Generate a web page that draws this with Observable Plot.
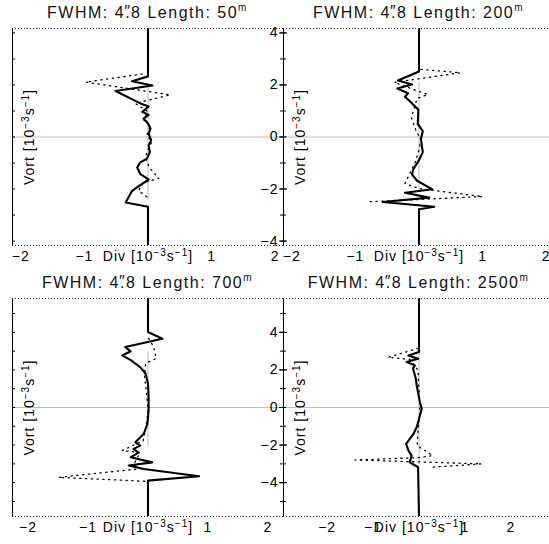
<!DOCTYPE html>
<html><head><meta charset="utf-8">
<script src="https://cdn.jsdelivr.net/npm/d3@7"></script>
<script src="https://cdn.jsdelivr.net/npm/@observablehq/plot@0.6"></script>
<style>
html,body{margin:0;padding:0;background:#fff;}
#fig{position:relative;width:549px;height:544px;overflow:hidden;background:#fff;font-family:"Liberation Sans",Arial,sans-serif;}
#fig svg{position:absolute;}
.ttl{position:absolute;font-size:16px;line-height:1;letter-spacing:1.5px;white-space:nowrap;transform:translate(-50%,-50%);color:#111;}
.ttl sup{font-size:10px;vertical-align:0;position:relative;top:-7px;}
.arc{display:inline-block;position:relative;}
.arc i{font-style:normal;position:absolute;left:-1px;top:-1px;}
</style></head><body><div id="fig"></div>
<script>
// ---- data (Div vs Vort, units 10^-3 s^-1) ----
const lengths = ["50", "200", "700", "2500"];
const xTicks = [-2, -1, 1, 2];
const yTicks = [-4, -2, 0, 2, 4];

// 50 m
const tlSolidVort = [4.17, 2.33, 2.14, 1.98, 1.77, 1.29, 1.17, 0.97, 0.85, 0.71, 0.52, 0.32, 0.13, -0.13, -0.32, -0.58, -0.84, -0.97, -1.17, -1.43, -1.55, -1.64, -1.88, -2.07, -2.52, -2.68, -4.17];
const tlSolidDiv  = [0, 0, -0.25, 0.07, -0.51, -0.12, 0.01, -0.09, 0.01, -0.07, 0, 0.04, 0.01, 0.05, 0.01, 0.03, -0.02, -0.12, -0.17, -0.12, -0.04, 0.01, -0.14, -0.25, -0.35, 0, 0];
const tlDotVort = [2.42, 2.11, 1.62, 1.29, 0.97, 0.66, 0.43, 0.08, -0.19, -0.47, -0.78, -1.17, -1.59, -1.75, -2.06, -2.33];
const tlDotDiv  = [-0.09, -0.98, 0.35, -0.2, 0, -0.07, 0.04, -0.02, 0.06, 0, -0.04, 0.02, 0.17, -0.07, -0.15, 0];
const tlGrayVort = [2.05, -2.4];
const tlGrayDiv  = [0, 0];

// 200 m
const trSolidVort = [4.17, 2.52, 2.17, 2.02, 1.86, 1.68, 1.55, 1.36, 1.05, 0.5, 0.23, -0.08, -0.58, -0.89, -1.24, -1.44, -1.68, -2.01, -2.14, -2.33, -2.5, -2.68, -2.78, -4.17];
const trSolidDiv  = [0, 0, -0.33, -0.11, -0.34, -0.17, -0.22, -0.14, -0.01, -0.02, 0.06, 0.03, 0.06, 0, -0.09, -0.11, -0.03, 0.21, -0.22, 0.16, -0.57, 0.24, 0, 0];
const trDotVort = [2.6, 2.47, 2.1, 1.63, 1.48, 0.74, 0.27, -0.12, -0.5, -0.97, -1.79, -1.98, -2.29, -2.49];
const trDotDiv  = [0.03, 0.65, -0.39, 0.14, -0.03, -0.12, -0.05, 0.03, 0, -0.06, -0.22, 0, 1.0, -0.83];
const trGrayVort = [2.1, -2.0];
const trGrayDiv  = [0, 0];

// 700 m
const blSolidVort = [5.8, 4.02, 3.66, 3.22, 2.99, 2.77, 2.51, 2.33, 2.15, 1.8, 1.26, 0.55, -0.16, -0.87, -1.4, -1.85, -2.03, -2.2, -2.4, -2.65, -2.92, -3.09, -3.27, -3.66, -3.89, -5.8];
const blSolidDiv  = [0, 0, 0.24, -0.38, -0.29, -0.43, -0.28, -0.21, -0.13, -0.04, 0, 0.01, 0.01, -0.01, -0.07, -0.21, -0.13, -0.24, -0.16, -0.29, 0.07, -0.32, -0.07, 0.85, 0, 0];
const blDotVort = [3.68, 3.25, 2.61, 2.35, 1.71, 0.64, -0.27, -1.12, -1.76, -2.29, -2.4, -3.04, -3.25, -3.72, -3.93];
const blDotDiv  = [0.01, 0.09, 0.14, -0.04, -0.06, -0.02, 0, -0.04, -0.08, -0.43, -0.13, -0.24, -0.12, -1.49, -0.01];
const blGrayVort = [2.95, -2.03];
const blGrayDiv  = [0, 0];

// 2500 m
const brSolidVort = [5.8, 2.95, 2.77, 2.6, 2.42, 2.24, 2.08, 1.55, 1.17, 0.28, -0.07, -0.52, -1.05, -1.4, -1.94, -2.29, -2.56, -2.92, -3.18, -5.8];
const brSolidDiv  = [0, 0, -0.23, -0.02, -0.27, -0.09, -0.13, -0.07, -0.05, 0.02, 0.06, 0.01, -0.05, -0.12, -0.28, -0.23, -0.16, -0.2, -0.02, 0];
const brDotVort = [3.15, 2.67, 2.56, 1.97, 0.91, -0.16, -1.23, -2.03, -2.56, -2.67, -2.79, -3.0, -3.18];
const brDotDiv  = [-0.02, -0.67, -0.2, -0.02, 0, 0.02, -0.02, -0.04, 0.3, -0.04, -1.39, 1.36, 0.24];
const brGrayVort = [3.04, -2.99];
const brGrayDiv  = [0, 0];

// axis extents per panel
const xMax = [2.13, 2.13, 2.26, 2.95];
const yMax = [4.17, 4.17, 5.8, 5.8];

// ---- drawing ----
const fmt = d => (d < 0 ? "\u2212" + (-d) : String(d));
const fig = document.getElementById("fig");
const FW = 271, ML = 12, MR = 12, MT = 28, MB = 28;

const panels = [
  {sv: tlSolidVort, sd: tlSolidDiv, dv: tlDotVort, dd: tlDotDiv, gv: tlGrayVort, gd: tlGrayDiv, h: 217, left: 0, top: 0, right: true},
  {sv: trSolidVort, sd: trSolidDiv, dv: trDotVort, dd: trDotDiv, gv: trGrayVort, gd: trGrayDiv, h: 217, left: 271, top: 0, right: false},
  {sv: blSolidVort, sd: blSolidDiv, dv: blDotVort, dd: blDotDiv, gv: blGrayVort, gd: blGrayDiv, h: 218, left: 0, top: 270, right: true},
  {sv: brSolidVort, sd: brSolidDiv, dv: brDotVort, dd: brDotDiv, gv: brGrayVort, gd: brGrayDiv, h: 218, left: 271, top: 270, right: false}
];

// rebuild "Name [10^-3 s^-1]" labels with real raised superscripts
function unitLabel(el, name) {
  const t = d3.select(el);
  t.text(null);
  t.append("tspan").text(name + " [10");
  t.append("tspan").attr("dy", -5).attr("font-size", 10).text("\u22123");
  t.append("tspan").attr("dy", 5).text("s");
  t.append("tspan").attr("dy", -5).attr("font-size", 10).text("\u22121");
  t.append("tspan").attr("dy", 5).text("]");
}

panels.forEach((p, i) => {
  const xd = [-xMax[i], xMax[i]], yd = [-yMax[i], yMax[i]];
  const yMinor = d3.range(Math.ceil(yd[0]), Math.floor(yd[1]) + 1);
  const marks = [
    Plot.ruleY([0], {stroke: "#bdbdbd", strokeWidth: 1}),
    Plot.line(p.gv, {x: p.gd, y: p.gv, stroke: "#bdbdbd", strokeWidth: 1}),
    Plot.line(p.dv, {x: p.dd, y: p.dv, stroke: "#000", strokeWidth: 1.3, strokeDasharray: "1.3,4.5", clip: true}),
    Plot.line(p.sv, {x: p.sd, y: p.sv, stroke: "#000", strokeWidth: 2.1, clip: true}),
    Plot.ruleX([xd[0]], {stroke: "#000", strokeWidth: 1}),
    Plot.ruleY(yd, {stroke: "#222", strokeWidth: 1, strokeDasharray: "1,2"}),
    Plot.tickY(yMinor, {y: d => d, insetRight: FW - 3, stroke: "#000"}),
    Plot.text(xTicks, {x: d => d, text: fmt, frameAnchor: "bottom", dy: 15, fontSize: 14}),
    Plot.text(["DIVLABEL"], {frameAnchor: "bottom", textAnchor: "middle", dy: 15, fontSize: 14}),
    Plot.text(["VORTLABEL"], {frameAnchor: "left", textAnchor: "middle", dx: 17, rotate: -90, fontSize: 14})
  ];
  if (p.right) {
    marks.push(
      Plot.ruleX([xd[1]], {stroke: "#000", strokeWidth: 1}),
      Plot.tickY(yTicks, {y: d => d, insetLeft: FW - 4, insetRight: -4, stroke: "#000"}),
      Plot.tickY(yMinor, {y: d => d, insetLeft: FW - 3, stroke: "#000"}),
      Plot.text(yTicks, {y: d => d, text: fmt, frameAnchor: "right", textAnchor: "end", dx: -5, fontSize: 14})
    );
  }
  const svg = Plot.plot({
    width: FW + ML + MR, height: p.h + MT + MB,
    marginLeft: ML, marginRight: MR, marginTop: MT, marginBottom: MB,
    x: {domain: xd, axis: null},
    y: {domain: yd, axis: null},
    style: {background: "transparent", overflow: "visible", fontFamily: "Liberation Sans, Arial, sans-serif", letterSpacing: "1px"},
    marks
  });
  d3.select(svg).selectAll("text").each(function () {
    if (this.textContent === "DIVLABEL") unitLabel(this, "Div");
    else if (this.textContent === "VORTLABEL") unitLabel(this, "Vort");
  });
  svg.style.left = p.left + "px";
  svg.style.top = p.top + "px";
  fig.appendChild(svg);

  const t = document.createElement("div");
  t.className = "ttl";
  t.innerHTML = 'FWHM: 4<span class="arc">.<i>\u2033</i></span>8 Length: ' + lengths[i] + '<sup>m</sup>';
  t.style.left = (p.left + ML + FW / 2) + "px";
  t.style.top = (p.top + MT - 15) + "px";
  fig.appendChild(t);
});
</script></body></html>
